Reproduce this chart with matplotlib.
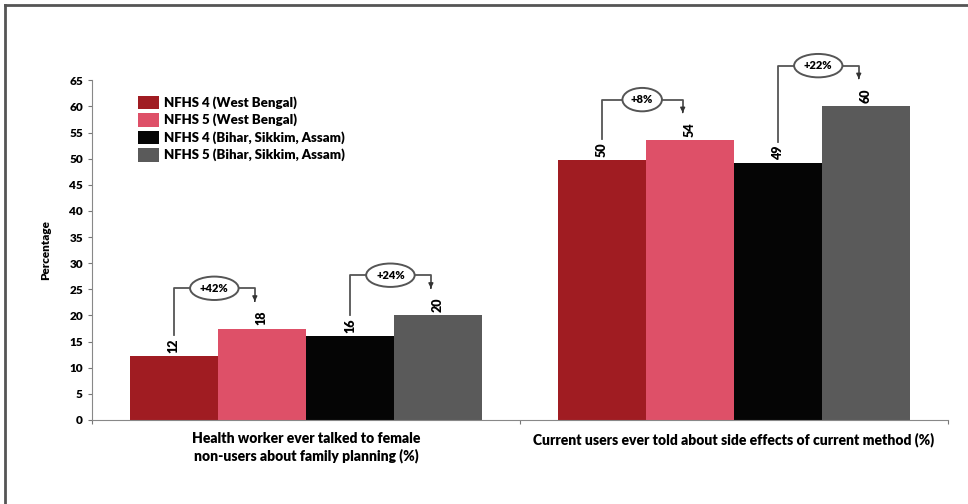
import matplotlib
matplotlib.use("Agg")
import matplotlib.pyplot as plt
from matplotlib.lines import Line2D
import numpy as np

plt.rcParams['font.family'] = ['Lato', 'DejaVu Sans']

# ---- data ----
series = ["NFHS 4 (West Bengal)", "NFHS 5 (West Bengal)",
          "NFHS 4 (Bihar, Sikkim, Assam)", "NFHS 5 (Bihar, Sikkim, Assam)"]
colors = ["#a01c22", "#de5068", "#050505", "#5a5a5a"]
categories = ["Health worker ever talked to female\nnon-users about family planning (%)",
              "Current users ever told about side effects of current method (%)"]
health_worker = [12.3, 17.5, 16.1, 20.0]
side_effects = [49.7, 53.6, 49.2, 60.1]
health_labels = ["12", "18", "16", "20"]
side_labels = ["50", "54", "49", "60"]
changes = [["+42%", "+24%"], ["+8%", "+22%"]]

values = [health_worker, side_effects]
labels = [health_labels, side_labels]

# ---- figure ----
fig = plt.figure(figsize=(9.68, 5.04), dpi=100)
ax = fig.add_axes([0.095, 0.1667, 0.884, 0.674])

span = 4.86
centers = [span / 2, span * 1.5]
offsets = [-1.5, -0.5, 0.5, 1.5]

for g in range(2):
    for i in range(4):
        ax.bar(centers[g] + offsets[i], values[g][i], width=1.0, color=colors[i],
               label=series[i] if g == 0 else None)
        ax.text(centers[g] + offsets[i], values[g][i] + 0.6, labels[g][i], rotation=90,
                ha="center", va="bottom", fontsize=9, fontweight="heavy")

# brackets with change ellipses (pair: bar a -> bar b)
for g in range(2):
    for p in range(2):
        a, b = 2 * p, 2 * p + 1
        xa = centers[g] + offsets[a]
        xb = centers[g] + offsets[b] - 0.08
        ya = values[g][a] + 4.0
        yb = values[g][b] + 5.2
        top = max(ya, yb) + 2.5
        ax.plot([xa, xa, xb, xb], [ya, top, top, yb + 0.4], color="#555555",
                lw=1.3, clip_on=False)
        ax.annotate("", xy=(xb, yb), xytext=(xb, yb + 0.6),
                    arrowprops=dict(arrowstyle="-|>", color="#333333", lw=1.0,
                                    mutation_scale=7), annotation_clip=False)
        ax.text((xa + xb) / 2, top, changes[g][p], ha="center", va="center",
                fontsize=8, fontweight="heavy",
                bbox=dict(boxstyle="ellipse,pad=0.25", fc="white", ec="#555555", lw=1.4))

ax.set_xlim(0, span * 2)
ax.set_ylim(0, 65)
ax.set_yticks(np.arange(0, 66, 5))
ax.set_xticks([0, span, span * 2])
ax.set_xticklabels([])
ax.tick_params(axis="both", length=3, color="#777777", labelsize=8.5)
for t in ax.get_yticklabels():
    t.set_fontweight("heavy")
for s in ["top", "right"]:
    ax.spines[s].set_visible(False)
for s in ["left", "bottom"]:
    ax.spines[s].set_color("#888888")
ax.set_ylabel("Percentage", fontsize=8.5, fontweight="heavy", labelpad=13)

for g in range(2):
    ax.text(centers[g], -2.3, categories[g], ha="center", va="top",
            fontsize=10, fontweight="heavy", linespacing=1.3, transform=ax.transData)

ax.legend(loc="upper left", bbox_to_anchor=(0.04, 0.99), frameon=False,
          prop={"size": 9.5, "weight": "heavy"}, handlelength=1.6, handleheight=1.2,
          labelspacing=0.3, handletextpad=0.4)

# outer frame (top and left edges)
fig.add_artist(Line2D([5 / 968, 1], [1 - 5 / 504, 1 - 5 / 504],
                      transform=fig.transFigure, color="#555555", lw=2))
fig.add_artist(Line2D([5 / 968, 5 / 968], [0, 1 - 5 / 504],
                      transform=fig.transFigure, color="#555555", lw=2))

fig.savefig("out.png", dpi=100)
